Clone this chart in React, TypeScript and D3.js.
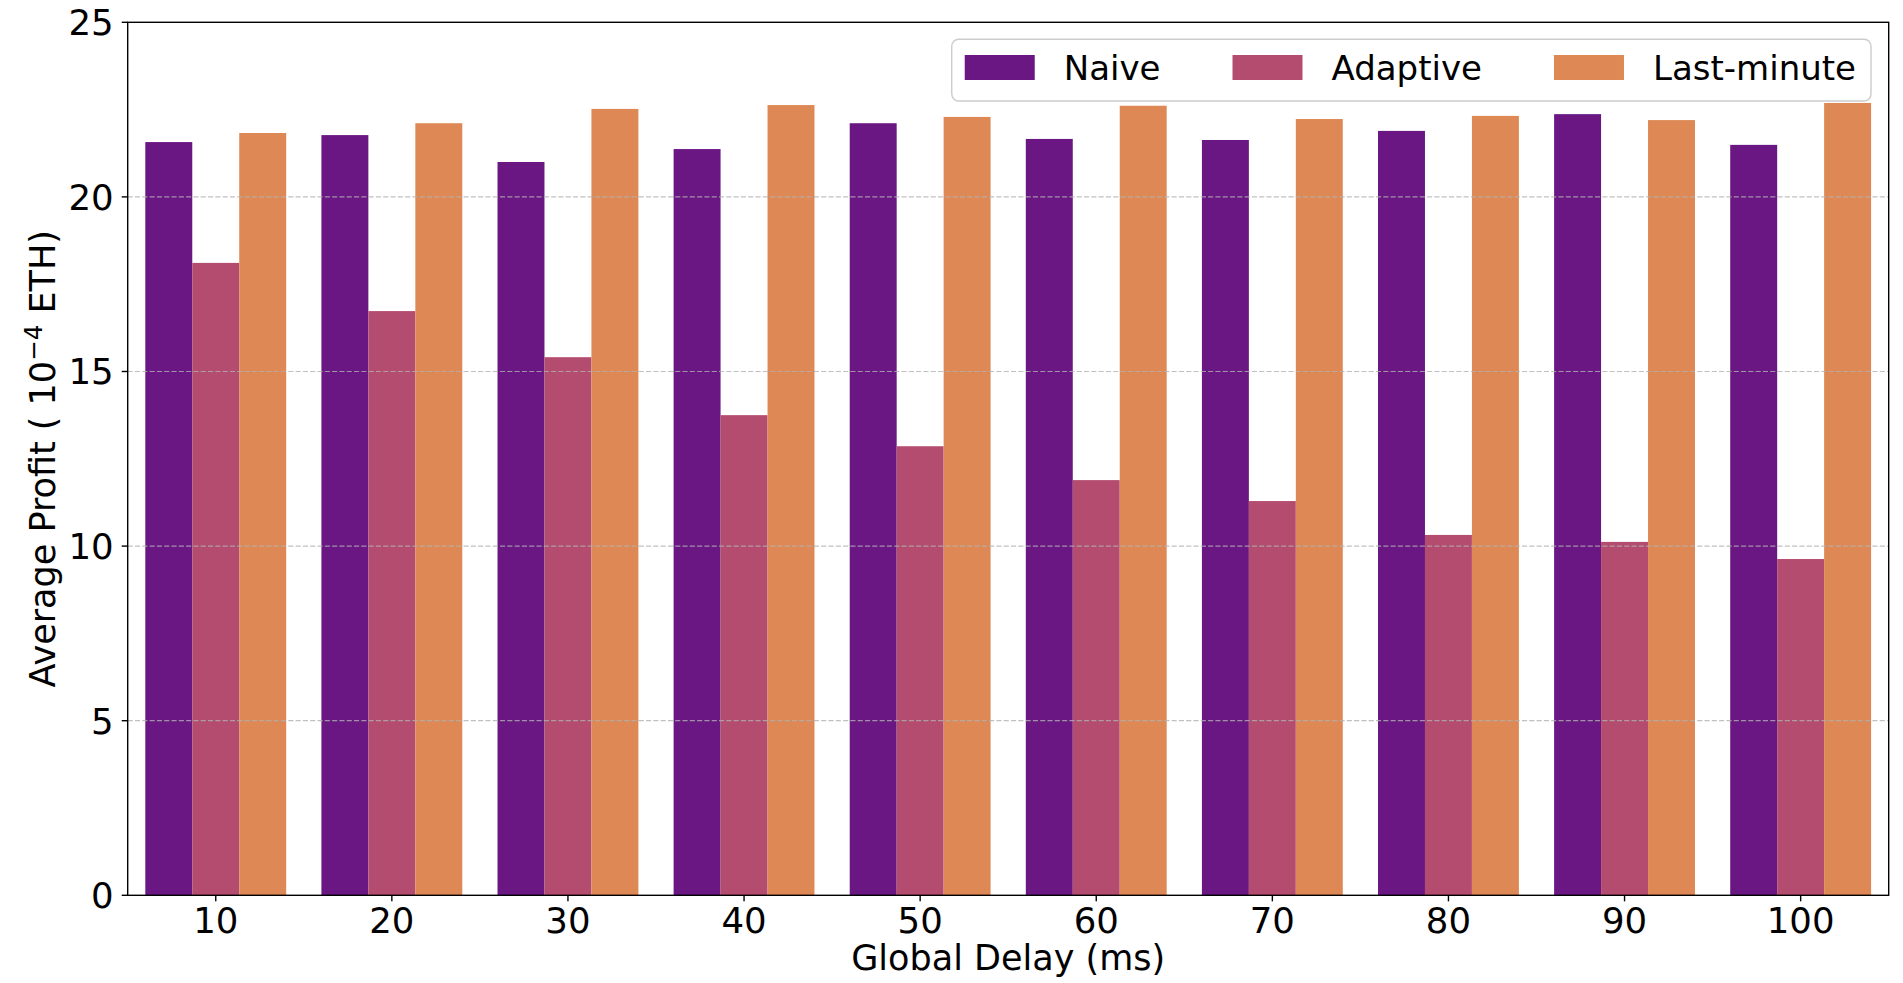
import React, { useEffect, useRef } from "react";
import * as d3 from "d3";

const delays = [10, 20, 30, 40, 50, 60, 70, 80, 90, 100];
const seriesNames = ["Naive", "Adaptive", "Last-minute"];
const naive = [21.57, 21.77, 21.0, 21.37, 22.11, 21.66, 21.63, 21.89, 22.37, 21.49];
const adaptive = [18.11, 16.73, 15.41, 13.75, 12.86, 11.89, 11.29, 10.32, 10.12, 9.63];
const lastMinute = [21.83, 22.11, 22.52, 22.63, 22.29, 22.61, 22.23, 22.32, 22.2, 22.69];
const colors = ["#6a1784", "#b44c70", "#de8955"];
const yTicks = [0, 5, 10, 15, 20, 25];

const W = 1903;
const H = 983;
const left = 127.7;
const right = 1888.7;
const top = 22.3;
const bottom = 895.3;
const FONT = "DejaVu Sans";
const FS = 35;
const TFS = 35.5;
const LFS = 34;

export default function App() {
  const ref = useRef<SVGSVGElement>(null);
  useEffect(() => {
    const svg = d3.select(ref.current);
    svg.selectAll("*").remove();
    const values = [naive, adaptive, lastMinute];

    const x = d3.scaleBand<number>().domain(delays).range([left, right]).paddingInner(0.2).paddingOuter(0.1);
    const xs = d3.scaleBand<string>().domain(seriesNames).range([0, x.bandwidth()]);
    const y = d3.scaleLinear().domain([0, 25]).range([bottom, top]);

    // bars
    seriesNames.forEach((s, si) => {
      svg
        .append("g")
        .selectAll("rect")
        .data(delays.map((d, i) => ({ d, v: values[si][i] })))
        .join("rect")
        .attr("x", (p) => (x(p.d) as number) + (xs(s) as number))
        .attr("width", xs.bandwidth())
        .attr("y", (p) => y(p.v))
        .attr("height", (p) => y(0) - y(p.v))
        .attr("fill", colors[si]);
    });

    // grid (drawn above bars)
    svg
      .append("g")
      .selectAll("line")
      .data(yTicks.filter((t) => t > 0 && t < 25))
      .join("line")
      .attr("x1", left)
      .attr("x2", right)
      .attr("y1", (t) => y(t))
      .attr("y2", (t) => y(t))
      .attr("stroke", "#b0b0b0")
      .attr("stroke-opacity", 0.8)
      .attr("stroke-width", 1.2)
      .attr("stroke-dasharray", "5.1,2.2");

    // frame
    svg
      .append("rect")
      .attr("x", left)
      .attr("y", top)
      .attr("width", right - left)
      .attr("height", bottom - top)
      .attr("fill", "none")
      .attr("stroke", "#000")
      .attr("stroke-width", 1.4);

    // y ticks
    const yt = svg.append("g");
    yTicks.forEach((t) => {
      yt.append("line").attr("x1", left - 6).attr("x2", left).attr("y1", y(t)).attr("y2", y(t)).attr("stroke", "#000").attr("stroke-width", 1.4);
      yt.append("text")
        .attr("x", left - 14)
        .attr("y", y(t) + 12.8)
        .attr("text-anchor", "end")
        .attr("font-family", FONT)
        .attr("font-size", TFS)
        .text(String(t));
    });

    // x ticks
    const xt = svg.append("g");
    delays.forEach((d) => {
      const cx = (x(d) as number) + x.bandwidth() / 2;
      xt.append("line").attr("x1", cx).attr("x2", cx).attr("y1", bottom).attr("y2", bottom + 6).attr("stroke", "#000").attr("stroke-width", 1.4);
      xt.append("text")
        .attr("x", cx)
        .attr("y", 932.7)
        .attr("text-anchor", "middle")
        .attr("font-family", FONT)
        .attr("font-size", TFS)
        .text(String(d));
    });

    // axis labels
    svg
      .append("text")
      .attr("x", (left + right) / 2)
      .attr("y", 970)
      .attr("text-anchor", "middle")
      .attr("font-family", FONT)
      .attr("font-size", FS)
      .text("Global Delay (ms)");

    const yl = svg
      .append("text")
      .attr("transform", `translate(55,${(top + bottom) / 2}) rotate(-90)`)
      .attr("text-anchor", "middle")
      .attr("font-family", FONT)
      .attr("font-size", FS);
    yl.append("tspan").text("Average Profit ( 10");
    yl.append("tspan").attr("dy", -13).attr("font-size", 24.5).text("\u22124");
    yl.append("tspan").attr("dy", 13).text(" ETH)");

    // legend
    const lg = svg.append("g");
    const box = lg
      .append("rect")
      .attr("rx", 7)
      .attr("ry", 7)
      .attr("fill", "#fff")
      .attr("fill-opacity", 0.8)
      .attr("stroke", "#cccccc")
      .attr("stroke-width", 1.4);
    const patchW = 70;
    const patchH = 25;
    const gapPT = 29;
    const colGap = 72;
    let cx = 0;
    const items: { px: number; tx: number }[] = [];
    const texts: any[] = [];
    seriesNames.forEach((s, si) => {
      const t = lg
        .append("text")
        .attr("font-family", FONT)
        .attr("font-size", LFS)
        .attr("y", 80)
        .text(s);
      texts.push(t);
      const w = (t.node() as SVGTextElement).getComputedTextLength();
      items.push({ px: cx, tx: cx + patchW + gapPT });
      cx += patchW + gapPT + w + (si < seriesNames.length - 1 ? colGap : 0);
    });
    const legendRight = 1871;
    const padR = 15;
    const padL = 13;
    const x0 = legendRight - padR - cx;
    box.attr("x", x0 - padL).attr("y", 39.3).attr("width", cx + padL + padR).attr("height", 101 - 39.3);
    seriesNames.forEach((s, si) => {
      lg.append("rect")
        .attr("x", x0 + items[si].px)
        .attr("y", 55)
        .attr("width", patchW)
        .attr("height", patchH)
        .attr("fill", colors[si]);
      texts[si].attr("x", x0 + items[si].tx);
    });
  }, []);

  return (
    <svg
      ref={ref}
      width={W}
      height={H}
      style={{ position: "absolute", left: 0, top: 0, background: "#fff" }}
    />
  );
}
